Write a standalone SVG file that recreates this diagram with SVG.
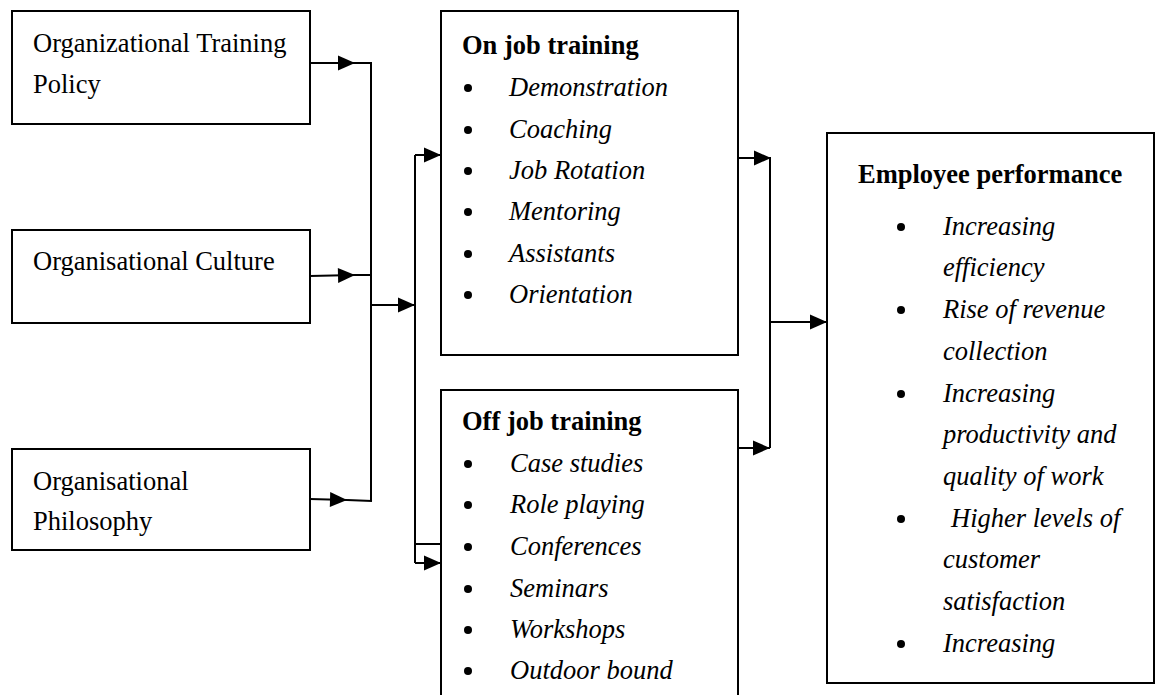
<svg xmlns="http://www.w3.org/2000/svg" width="1156" height="695" viewBox="0 0 1156 695">
<style>
.box{fill:#fff;stroke:#000;stroke-width:2}
.t{font-family:"Liberation Serif","Times New Roman",serif;font-size:26.5px;fill:#000}
.b{font-weight:bold}
.i{font-style:italic}
.c{fill:none;stroke:#000;stroke-width:2}
.a{marker-end:url(#ah)}
</style>
<defs>
<marker id="ah" markerUnits="userSpaceOnUse" markerWidth="17" markerHeight="15" refX="17" refY="7.5" orient="auto" overflow="visible">
<path d="M0,0 L17,7.5 L0,15 Z" fill="#000"/>
</marker>
</defs>
<rect width="1156" height="695" fill="#fff"/>

<g id="connectors">
<path class="c a" d="M310,63 L355,63"/>
<path class="c" d="M355,63 L372,63"/>
<path class="c" d="M371,63 L371,501"/>
<path class="c a" d="M310,276 L355,275"/>
<path class="c" d="M355,275 L372,275"/>
<path class="c a" d="M310,499 L347,500"/>
<path class="c" d="M347,500 L372,501"/>
<path class="c a" d="M371,305 L415,305"/>
<path class="c" d="M415,155 L415,563"/>
<path class="c a" d="M415,155 L441,155"/>
<path class="c" d="M415,544 L441,544"/>
<path class="c a" d="M415,563 L441,563"/>
<path class="c a" d="M738,158 L771,158"/>
<path class="c" d="M770,158 L770,448"/>
<path class="c a" d="M738,448 L770,448"/>
<path class="c a" d="M770,322 L827,322"/>
</g>

<g id="policy">
<rect class="box" x="12" y="11" width="298" height="113"/>
<text class="t" x="33" y="52">Organizational Training</text>
<text class="t" x="33" y="93">Policy</text>
</g>

<g id="culture">
<rect class="box" x="12" y="230" width="298" height="93"/>
<text class="t" x="33" y="270">Organisational Culture</text>
</g>

<g id="philosophy">
<rect class="box" x="12" y="449" width="298" height="101"/>
<text class="t" x="33" y="490">Organisational</text>
<text class="t" x="33" y="530">Philosophy</text>
</g>

<g id="onjob">
<rect class="box" x="441" y="11" width="297" height="344"/>
<text class="t b" x="462" y="54">On job training</text>
<circle cx="468" cy="88" r="4"/><text class="t i" x="509" y="96">Demonstration</text>
<circle cx="468" cy="130" r="4"/><text class="t i" x="509" y="138">Coaching</text>
<circle cx="468" cy="171" r="4"/><text class="t i" x="509" y="179">Job Rotation</text>
<circle cx="468" cy="212" r="4"/><text class="t i" x="509" y="220">Mentoring</text>
<circle cx="468" cy="254" r="4"/><text class="t i" x="509" y="262">Assistants</text>
<circle cx="468" cy="295" r="4"/><text class="t i" x="509" y="303">Orientation</text>
</g>

<g id="offjob">
<rect class="box" x="441" y="390" width="297" height="320"/>
<text class="t b" x="462" y="430">Off job training</text>
<circle cx="468" cy="464" r="4"/><text class="t i" x="510" y="472">Case studies</text>
<circle cx="468" cy="505" r="4"/><text class="t i" x="510" y="513">Role playing</text>
<circle cx="468" cy="547" r="4"/><text class="t i" x="510" y="555">Conferences</text>
<circle cx="468" cy="589" r="4"/><text class="t i" x="510" y="597">Seminars</text>
<circle cx="468" cy="630" r="4"/><text class="t i" x="510" y="638">Workshops</text>
<circle cx="468" cy="671" r="4"/><text class="t i" x="510" y="679">Outdoor bound</text>
</g>

<g id="performance">
<rect class="box" x="827" y="133" width="327" height="550"/>
<text class="t b" x="858" y="183">Employee performance</text>
<circle cx="901" cy="227" r="4"/><text class="t i" x="943" y="235">Increasing</text>
<text class="t i" x="943" y="276">efficiency</text>
<circle cx="901" cy="310" r="4"/><text class="t i" x="943" y="318">Rise of revenue</text>
<text class="t i" x="943" y="360">collection</text>
<circle cx="901" cy="394" r="4"/><text class="t i" x="943" y="402">Increasing</text>
<text class="t i" x="943" y="443">productivity and</text>
<text class="t i" x="943" y="485">quality of work</text>
<circle cx="901" cy="519" r="4"/><text class="t i" x="951" y="527">Higher levels of</text>
<text class="t i" x="943" y="568">customer</text>
<text class="t i" x="943" y="610">satisfaction</text>
<circle cx="901" cy="644" r="4"/><text class="t i" x="943" y="652">Increasing</text>
</g>
</svg>
